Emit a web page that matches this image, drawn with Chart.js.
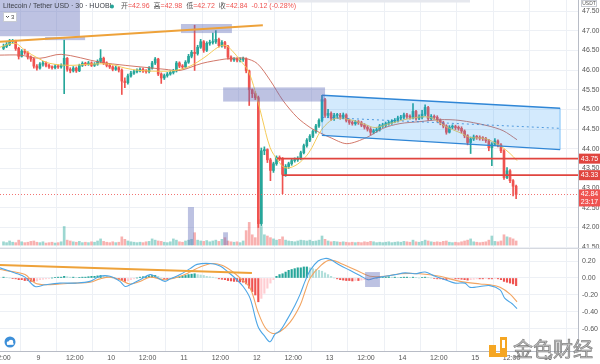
<!DOCTYPE html>
<html><head><meta charset="utf-8">
<script src="https://cdn.jsdelivr.net/npm/chart.js@4.4.1/dist/chart.umd.min.js"></script>
<style>
html,body{margin:0;padding:0;background:#fff;width:600px;height:364px;overflow:hidden}
#wrap{position:relative;width:600px;height:364px}
#c1{position:absolute;left:0;top:0}
#c2{position:absolute;left:0;top:248px}
</style></head><body>
<div id="wrap"><canvas id="c1" width="600" height="248"></canvas><canvas id="c2" width="600" height="116"></canvas></div>
<script>
// ===== DATA (1-hour candles, hours since day 8 12:00) =====
const opens = [
46.55,46.60,46.65,46.72,46.74,46.55,46.35,46.48,46.45,46.33,
46.28,46.10,46.05,46.15,46.18,46.12,46.08,46.06,46.10,46.08,
46.12,46.30,46.02,45.98,46.05,45.98,46.12,46.17,46.15,46.18,
46.12,46.15,46.22,46.30,46.18,46.12,46.08,46.02,46.06,46.00,
45.72,45.68,45.85,45.92,45.96,45.98,46.02,45.98,45.96,46.05,
46.18,46.28,45.90,45.80,45.86,45.90,45.94,45.98,46.18,46.10,
46.08,46.20,46.35,46.45,46.42,46.58,46.72,46.50,46.68,46.70,
46.72,46.78,46.62,46.70,46.60,46.33,46.26,46.28,46.25,46.27,
46.28,45.98,45.50,45.40,45.30,42.10,43.95,43.98,43.72,43.45,
43.62,43.78,43.75,43.35,43.55,43.62,43.70,43.72,43.75,43.90,
44.08,44.22,44.32,44.44,44.58,44.72,45.25,44.85,44.90,44.78,
44.85,44.85,44.80,44.86,44.72,44.67,44.64,44.68,44.66,44.60,
44.55,44.50,44.42,44.46,44.48,44.58,44.60,44.64,44.66,44.70,
44.72,44.78,44.80,44.86,44.82,44.80,44.95,44.78,44.80,44.88,
45.05,44.77,44.82,44.80,44.72,44.66,44.58,44.42,44.55,44.56,
44.54,44.52,44.45,44.33,44.16,44.25,44.30,44.29,44.27,44.26,
44.21,44.03,44.12,44.20,44.10,43.95,43.27,43.44,43.19,43.05];
const highs = [
46.66,46.70,46.78,46.78,46.76,46.58,46.52,46.53,46.47,46.36,
46.30,46.14,46.19,46.22,46.21,46.15,46.11,46.14,46.13,46.16,
46.76,46.32,46.06,46.09,46.08,46.15,46.21,46.20,46.22,46.21,
46.19,46.26,46.52,46.33,46.21,46.15,46.11,46.10,46.09,46.03,
45.80,45.90,45.97,46.00,46.03,46.06,46.05,46.01,46.09,46.22,
46.32,46.30,45.93,45.90,45.94,45.98,46.02,46.22,46.21,46.14,
46.24,46.40,46.50,47.14,46.63,46.78,46.75,46.72,46.76,46.94,
47.00,46.81,46.75,46.73,46.63,46.36,46.32,46.31,46.31,46.33,
46.31,46.00,45.52,45.45,45.34,44.02,44.05,44.00,43.76,43.66,
43.82,43.82,43.78,43.60,43.66,43.74,43.77,43.80,43.94,44.12,
44.26,44.36,44.48,44.62,44.76,45.36,45.28,45.00,44.94,44.90,
44.90,44.90,44.91,44.89,44.76,44.71,44.72,44.72,44.70,44.64,
44.59,44.54,44.50,44.53,44.62,44.65,44.68,44.71,44.74,44.77,
44.83,44.85,44.91,44.90,44.86,45.15,44.98,44.86,44.98,45.12,
45.08,44.87,44.86,44.84,44.76,44.70,44.61,44.59,44.61,44.60,
44.58,44.56,44.48,44.36,44.30,44.35,44.34,44.33,44.31,44.29,
44.24,44.16,44.26,44.23,44.13,43.98,43.52,43.47,43.22,43.08];
const lows = [
46.52,46.57,46.62,46.68,46.50,46.28,46.33,46.40,46.28,46.22,
46.05,46.00,46.02,46.10,46.08,46.04,46.02,46.03,46.04,46.05,
45.40,45.97,45.93,45.95,45.94,45.96,46.09,46.11,46.12,46.09,
46.09,46.12,46.19,46.14,46.08,46.04,45.98,45.99,45.95,45.38,
45.55,45.64,45.82,45.89,45.93,45.95,45.94,45.92,45.93,46.02,
46.14,45.86,45.66,45.76,45.82,45.87,45.90,45.95,46.06,46.03,
46.05,46.17,46.31,45.99,46.38,46.55,46.45,46.47,46.63,46.66,
46.68,46.58,46.58,46.55,46.28,46.22,46.22,46.21,46.21,46.22,
45.93,45.10,45.30,45.25,42.00,42.05,43.85,43.65,43.19,43.40,
43.58,43.70,42.86,43.30,43.50,43.58,43.66,43.68,43.72,43.87,
44.04,44.18,44.28,44.40,44.54,44.68,44.80,44.80,44.72,44.72,
44.78,44.75,44.76,44.68,44.62,44.60,44.60,44.62,44.56,44.50,
44.45,44.35,44.38,44.42,44.45,44.54,44.56,44.60,44.62,44.66,
44.68,44.74,44.76,44.77,44.75,44.76,44.73,44.74,44.76,44.84,
44.72,44.73,44.75,44.68,44.61,44.53,44.37,44.40,44.51,44.49,
44.47,44.40,44.28,44.10,43.88,44.21,44.24,44.22,44.21,44.16,
43.95,43.57,44.08,44.05,43.90,43.22,43.24,43.14,42.80,42.73];
const closes = [
46.60,46.65,46.72,46.74,46.55,46.35,46.48,46.45,46.33,46.28,
46.10,46.05,46.15,46.18,46.12,46.08,46.06,46.10,46.08,46.12,
46.30,46.02,45.98,46.05,45.98,46.12,46.17,46.15,46.18,46.12,
46.15,46.22,46.30,46.18,46.12,46.08,46.02,46.06,46.00,45.72,
45.68,45.85,45.92,45.96,45.98,46.02,45.98,45.96,46.05,46.18,
46.28,45.90,45.80,45.86,45.90,45.94,45.98,46.18,46.10,46.08,
46.20,46.35,46.45,46.42,46.58,46.72,46.50,46.68,46.70,46.72,
46.78,46.62,46.70,46.60,46.33,46.26,46.28,46.25,46.27,46.28,
45.98,45.50,45.40,45.30,42.10,43.95,43.98,43.72,43.45,43.62,
43.78,43.75,43.35,43.55,43.62,43.70,43.72,43.75,43.90,44.08,
44.22,44.32,44.44,44.58,44.72,45.25,44.85,44.90,44.78,44.85,
44.85,44.80,44.86,44.72,44.67,44.64,44.68,44.66,44.60,44.55,
44.50,44.42,44.46,44.48,44.58,44.60,44.64,44.66,44.70,44.72,
44.78,44.80,44.86,44.82,44.80,44.95,44.78,44.80,44.88,45.05,
44.77,44.82,44.80,44.72,44.66,44.58,44.42,44.55,44.56,44.54,
44.52,44.45,44.33,44.16,44.25,44.30,44.29,44.27,44.26,44.21,
44.03,44.12,44.20,44.10,43.95,43.27,43.44,43.19,43.05,42.84];
const volumes = [
8,6,10,7,6,12,8,6,7,9, 10,7,6,8,5,6,7,5,6,8,
45,12,10,8,7,9,6,7,6,8, 7,10,15,9,7,6,8,6,7,20,
14,10,8,7,6,7,6,8,9,15, 12,10,9,7,6,8,15,12,8,7,
10,12,14,30,12,10,9,11,8,10, 12,9,14,18,10,8,7,8,6,10,
35,55,25,18,62,45,25,22,18,15, 12,14,20,12,10,9,8,10,12,11,
10,12,9,10,12,22,14,10,8,9, 8,7,8,7,6,7,6,7,6,8,
7,9,8,6,7,6,7,8,6,7, 8,7,9,8,7,12,8,7,9,12,
10,8,7,8,7,9,10,7,6,7, 6,8,10,12,15,8,7,6,7,8,
12,22,9,8,10,25,20,18,15,10];
const macdHist = [
0.01,0.005,0,-0.005,-0.01,-0.02,-0.02,-0.03,-0.03,-0.04,
-0.04,-0.035,-0.02,-0.015,-0.01,-0.005,0,0.005,0.01,0.01,
0.02,0.015,0.01,0.01,0.005,0.005,0.01,0.01,0.015,0.02,
0.02,0.025,0.03,0.025,0.02,0.01,0,-0.01,-0.015,-0.03,
-0.04,-0.035,-0.02,-0.01,0,0.01,0.015,0.02,0.025,0.03,
0.03,0.02,0,-0.01,-0.01,-0.005,0,0.01,0.015,0.02,
0.03,0.04,0.045,0.05,0.04,0.035,0.03,0.02,0.015,0.01,
0,-0.01,-0.015,-0.02,-0.03,-0.035,-0.04,-0.04,-0.045,-0.05,
-0.07,-0.12,-0.16,-0.2,-0.28,-0.24,-0.18,-0.12,-0.06,-0.02,
0.02,0.04,0.05,0.07,0.09,0.10,0.11,0.12,0.12,0.13,
0.13,0.12,0.11,0.10,0.09,0.08,0.06,0.04,0.02,0,
-0.01,-0.02,-0.025,-0.03,-0.03,-0.035,-0.03,-0.03,-0.025,-0.02,
-0.015,-0.01,-0.005,0,0.005,0.01,0.01,0.015,0.01,0.01,
0.005,0.005,0.01,0.01,0.005,0.01,0.005,0,0.005,0.01,
0.005,0,-0.005,-0.01,-0.01,-0.015,-0.02,-0.015,-0.01,-0.01,
-0.01,-0.015,-0.02,-0.025,-0.02,-0.015,-0.01,-0.01,-0.01,-0.005,
-0.01,-0.01,-0.005,-0.01,-0.02,-0.04,-0.05,-0.06,-0.07,-0.09];
// MACD / signal lines: [hour, value]
const macdLine = [[-0.7,0.12],[4.3,0.06],[7.6,0.01],[10.9,-0.10],[14.2,-0.08],[19.1,-0.06],[24.1,-0.06],[29,-0.04],[32.3,0.02],[35.6,0.02],[38.9,-0.04],[40.6,-0.10],[42.2,-0.08],[45.5,-0.02],[48.8,0.04],[50.4,0.02],[53.7,-0.04],[55.4,-0.01],[58.7,0.04],[62,0.11],[64.3,0.16],[68.6,0.17],[71.9,0.14],[74.5,0.07],[76.8,0.0],[79.5,-0.10],[81.8,-0.24],[84.4,-0.57],[86.7,-0.69],[88.4,-0.75],[90,-0.66],[91.7,-0.62],[94,-0.49],[96.6,-0.32],[98.3,-0.19],[99.9,-0.04],[101.6,0.09],[104.2,0.20],[106.5,0.23],[108.1,0.22],[111.4,0.15],[114.7,0.09],[118,0.03],[120.7,-0.02],[123,0.0],[126.3,0.02],[129.6,0.04],[132.9,0.06],[136.2,0.05],[139.5,0.07],[142.8,0.02],[146.1,-0.02],[149.4,-0.06],[152.6,-0.06],[154.3,-0.11],[157.6,-0.10],[160.9,-0.09],[164.2,-0.14],[165.8,-0.24],[168.1,-0.30],[169.8,-0.36]];
const signalLine = [[-0.7,0.10],[4.3,0.07],[7.6,0.04],[10.9,-0.06],[14.2,-0.08],[19.1,-0.07],[24.1,-0.06],[29,-0.05],[32.3,-0.01],[35.6,0.01],[38.9,-0.02],[42.2,-0.07],[45.5,-0.04],[48.8,0.01],[53.7,-0.02],[58.7,0.02],[62,0.07],[65.3,0.13],[69.3,0.17],[72.5,0.15],[75.8,0.08],[78.5,0.0],[81.8,-0.12],[84.4,-0.40],[86.7,-0.58],[89,-0.65],[91.7,-0.63],[95,-0.52],[98.3,-0.32],[100,-0.15],[101.6,0.0],[104.9,0.14],[108.1,0.21],[113.1,0.15],[118,0.07],[121.3,0.02],[126.3,0.02],[131.2,0.05],[137.8,0.05],[144.4,0.02],[151,-0.04],[157.6,-0.07],[160.9,-0.08],[164.2,-0.11],[167.5,-0.19],[169.8,-0.28]];
// moving averages: [hour, price]
const maFast = [[-0.7,46.58],[4.3,46.68],[7.6,46.50],[11.9,46.30],[15.8,46.17],[22.4,46.12],[29,46.15],[35.6,46.15],[40.6,46.05],[45.5,45.99],[52.1,45.97],[57,45.99],[62,46.10],[66.9,46.33],[71.2,46.58],[73.5,46.63],[75.8,46.50],[78.5,46.25],[81.1,45.99],[83.4,45.48],[85.7,44.80],[88.4,44.03],[91,43.70],[93.3,43.52],[96.6,43.57],[99.9,43.78],[102.2,44.03],[104.2,44.34],[106.5,44.59],[109.8,44.77],[114.7,44.74],[119.7,44.62],[123,44.54],[127.9,44.64],[134.5,44.77],[141.1,44.80],[146.1,44.57],[151,44.41],[154.3,44.29],[159.2,44.26],[164.2,44.08],[167.5,43.88],[169.8,43.70]];
const maSlow = [[-0.7,46.38],[5.9,46.38],[12.5,46.30],[19.5,46.40],[32.3,46.20],[40.6,46.12],[47.1,46.07],[53.7,46.02],[58.7,45.99],[65.9,46.17],[73.5,46.28],[76.8,46.30],[80.1,46.30],[84.1,46.17],[88.4,45.74],[92.6,45.23],[97.3,44.80],[101.6,44.54],[104.8,44.41],[108.1,44.29],[113.7,44.13],[120.3,44.29],[125.6,44.52],[131.2,44.64],[137.8,44.69],[144.4,44.74],[151,44.72],[159.9,44.59],[165.2,44.46],[169.8,44.23]];
const priceTicks = [41.5,42,42.5,43,43.5,44,44.5,45,45.5,46,46.5,47,47.5];
const macdTicks = [0.2,0,-0.2,-0.4,-0.6];
const timeTicks = [0,12,24,36,48,60,72,84,96,108,120,132,144,156,168,180];
const timeLabels = ["12:00","9","12:00","10","12:00","11","12:00","12","12:00","13","12:00","14","12:00","15","12:00","16"];
const lastPrice = 42.84;
// drawings (hour, price)
const trendTop = [[-0.7,46.72],[86.0,47.14]];
const zones = [[-0.7,25.7,46.86,47.9],[14.2,27.4,46.76,46.84],[59.0,75.8,46.94,47.17],[72.9,106.5,45.20,45.56]];
const volZones = [[61.3,63.3,0,92],[72.9,74.5,0,31]];
const channelTop = [[105.5,45.36],[184.0,45.03]];
const channelBot = [[105.5,44.34],[184.0,43.98]];
const channelMid = [[105.5,44.80],[184.0,44.52]];
const levels = [[90.7,43.75],[92.3,43.33]];
const macdTrend = [[-0.7,0.153],[82.4,0.059]];
const macdZone = [119.7,124.6,-0.106,0.07];

// ===== RENDER =====
const H0 = -0.66, H1 = 189.9;
const FONT = '"Liberation Sans","DejaVu Sans","Noto Sans CJK SC",sans-serif';
Chart.defaults.font.family = FONT;
Chart.defaults.animation = false;
const UP = '#26a69a', DN = '#ef5350';
const isUp = closes.map((c,i)=>c>=opens[i]);
const GRID = '#edf0f5';

const fixTicks = arr => s => { s.ticks = arr.map(v=>({value:v})); };
const noPad = s => { s.paddingLeft=0; s.paddingRight=0; s.paddingTop=0; s.paddingBottom=0; };

const ann1 = {
  id:'ann1',
  afterDatasetsDraw(chart){
    const ctx=chart.ctx, xs=chart.scales.x, ys=chart.scales.y, yv=chart.scales.yv, ca=chart.chartArea;
    const X=v=>xs.getPixelForValue(v), Y=v=>ys.getPixelForValue(v), YV=v=>yv.getPixelForValue(v);
    ctx.save();
    ctx.beginPath(); ctx.rect(ca.left,ca.top,ca.right-ca.left,ca.bottom-ca.top); ctx.clip();
    // channel
    ctx.fillStyle='rgba(33,150,243,0.20)';
    ctx.beginPath();
    ctx.moveTo(X(channelTop[0][0]),Y(channelTop[0][1]));
    ctx.lineTo(X(channelTop[1][0]),Y(channelTop[1][1]));
    ctx.lineTo(X(channelBot[1][0]),Y(channelBot[1][1]));
    ctx.lineTo(X(channelBot[0][0]),Y(channelBot[0][1]));
    ctx.closePath(); ctx.fill();
    ctx.strokeStyle='rgba(33,150,243,0.5)'; ctx.lineWidth=1;
    ctx.beginPath();
    ctx.moveTo(X(channelTop[0][0]),Y(channelTop[0][1])); ctx.lineTo(X(channelBot[0][0]),Y(channelBot[0][1]));
    ctx.moveTo(X(channelTop[1][0]),Y(channelTop[1][1])); ctx.lineTo(X(channelBot[1][0]),Y(channelBot[1][1]));
    ctx.stroke();
    ctx.strokeStyle='#2f86d6'; ctx.lineWidth=1.4;
    [channelTop,channelBot].forEach(l=>{ctx.beginPath();ctx.moveTo(X(l[0][0]),Y(l[0][1]));ctx.lineTo(X(l[1][0]),Y(l[1][1]));ctx.stroke();});
    ctx.setLineDash([2,3]); ctx.lineWidth=1; ctx.strokeStyle='rgba(47,134,214,0.8)';
    ctx.beginPath();ctx.moveTo(X(channelMid[0][0]),Y(channelMid[0][1]));ctx.lineTo(X(channelMid[1][0]),Y(channelMid[1][1]));ctx.stroke();
    ctx.setLineDash([]);
    // zones
    ctx.fillStyle='rgba(98,110,186,0.42)';
    zones.forEach(z=>{const x0=X(z[0]),x1=X(z[1]),y0=Y(z[3]),y1=Y(z[2]);ctx.fillRect(x0,y0,x1-x0,y1-y0);});
    volZones.forEach(z=>{const x0=X(z[0]),x1=X(z[1]),y0=YV(z[3]),y1=YV(z[2]);ctx.fillRect(x0,y0,x1-x0,y1-y0);});
    // trend line
    ctx.strokeStyle='#eea23a'; ctx.lineWidth=2;
    ctx.beginPath();ctx.moveTo(X(trendTop[0][0]),Y(trendTop[0][1]));ctx.lineTo(X(trendTop[1][0]),Y(trendTop[1][1]));ctx.stroke();
    // horizontal levels
    ctx.strokeStyle='#e0453f'; ctx.lineWidth=1.6;
    levels.forEach(l=>{ctx.beginPath();ctx.moveTo(X(l[0]),Y(l[1]));ctx.lineTo(ca.right,Y(l[1]));ctx.stroke();});
    // last price dotted
    ctx.strokeStyle='rgba(239,83,80,0.8)'; ctx.lineWidth=1; ctx.setLineDash([1,2]);
    ctx.beginPath();ctx.moveTo(ca.left,Math.round(Y(lastPrice))+0.5);ctx.lineTo(ca.right,Math.round(Y(lastPrice))+0.5);ctx.stroke();
    ctx.setLineDash([]);
    ctx.restore();
  },
  afterDraw(chart){
    const ctx=chart.ctx, ys=chart.scales.y, ca=chart.chartArea;
    const Y=v=>ys.getPixelForValue(v);
    ctx.save();
    // axis tags
    const tag=(y0,h,lines,bg)=>{
      ctx.fillStyle=bg; ctx.fillRect(ca.right+1,y0,21,h);
      ctx.fillStyle='#fff'; ctx.font='7px '+FONT; ctx.textAlign='center'; ctx.textBaseline='middle';
      lines.forEach((t,k)=>ctx.fillText(t,ca.right+11.5,y0+5+k*8));
    };
    levels.forEach(l=>tag(Y(l[1])-5,10,[l[1].toFixed(2)],'#e0453f'));
    tag(Y(lastPrice)-5,17,[lastPrice.toFixed(2),'23:17'],'#ef5350');
    // USDT tag
    ctx.strokeStyle='#c8cbd3'; ctx.lineWidth=1; ctx.fillStyle='#fff';
    ctx.fillRect(581.5,0.5,15,6); ctx.strokeRect(581.5,0.5,15,6);
    ctx.fillStyle='#555'; ctx.font='5px '+FONT; ctx.textAlign='center'; ctx.textBaseline='middle';
    ctx.fillText('USDT',589,3.8);
    // top toolbar strip
    ctx.fillStyle='#e6e8ee'; ctx.fillRect(268,0,202,2.5);
    // legend
    ctx.textAlign='left'; ctx.textBaseline='middle'; ctx.font='7px '+FONT;
    ctx.fillStyle='#3c3f47';
    ctx.fillText('Litecoin / Tether USD · 30 · HUOBI',3,6.5);
    ctx.fillStyle='#26a69a'; ctx.beginPath(); ctx.arc(112,6.5,2,0,Math.PI*2); ctx.fill();
    let x=121;
    [['开','42.96'],['高','42.98'],['低','42.72'],['收','42.84']].forEach(p=>{
      ctx.fillStyle='#555'; ctx.fillText(p[0],x,6.5); x+=ctx.measureText(p[0]).width;
      ctx.fillStyle='#ef5350'; const t='='+p[1]; ctx.fillText(t,x,6.5); x+=ctx.measureText(t).width+4;
    });
    ctx.fillStyle='#ef5350'; ctx.fillText('-0.12 (-0.28%)',x,6.5);
    // collapse box
    ctx.fillStyle='#fff'; ctx.strokeStyle='#c8cbd3';
    ctx.fillRect(3.5,12.5,13,9); ctx.strokeRect(3.5,12.5,13,9);
    ctx.strokeStyle='#555'; ctx.beginPath(); ctx.moveTo(6,16); ctx.lineTo(7.5,17.5); ctx.lineTo(9,16); ctx.stroke();
    ctx.fillStyle='#444'; ctx.font='6px '+FONT; ctx.fillText('3',11,17);
    ctx.restore();
  }
};

new Chart(document.getElementById('c1'),{
  type:'bar',
  data:{datasets:[
    {type:'line',label:'MA fast',data:maFast.map(p=>({x:p[0],y:p[1]})),borderColor:'rgba(244,200,80,0.95)',borderWidth:1,pointRadius:0,tension:0.35,order:1,yAxisID:'y'},
    {type:'line',label:'MA slow',data:maSlow.map(p=>({x:p[0],y:p[1]})),borderColor:'rgba(205,105,90,0.9)',borderWidth:1,pointRadius:0,tension:0.3,order:1,yAxisID:'y'},
    {label:'body',data:closes.map((c,i)=>({x:i+0.5,y:[Math.min(c,opens[i]),Math.max(c,opens[i])]})),backgroundColor:isUp.map(u=>u?UP:DN),barThickness:2,minBarLength:1,grouped:false,order:2,yAxisID:'y'},
    {label:'wick',data:closes.map((c,i)=>({x:i+0.5,y:[lows[i],highs[i]]})),backgroundColor:isUp.map(u=>u?UP:DN),barThickness:1,grouped:false,order:3,yAxisID:'y'},
    {label:'volume',data:volumes.map((v,i)=>({x:i+0.5,y:v})),backgroundColor:isUp.map(u=>u?'rgba(38,166,154,0.45)':'rgba(239,83,80,0.45)'),barThickness:2,grouped:false,order:4,yAxisID:'yv'}
  ]},
  options:{
    responsive:false, animation:false, events:[],
    layout:{padding:0},
    plugins:{legend:{display:false},tooltip:{enabled:false}},
    scales:{
      x:{type:'linear',min:H0,max:H1,offset:false,grid:{color:GRID,drawTicks:false},border:{display:false},ticks:{display:false},afterBuildTicks:fixTicks(timeTicks),afterFit:s=>{s.height=0;noPad(s);}},
      y:{position:'right',min:41.48,max:47.78,grid:{color:GRID,drawTicks:false},border:{color:'#b8bcc6'},
         ticks:{autoSkip:false,padding:4,font:{size:7},color:'#555',callback:v=>Number(v).toFixed(2)},
         afterBuildTicks:fixTicks(priceTicks),afterFit:s=>{s.width=22;noPad(s);}},
      yv:{display:false,min:-7,max:593}
    }
  },
  plugins:[ann1]
});

const histColors = macdHist.map((v,i)=>{
  const p = i>0?macdHist[i-1]:0;
  if(v>=0) return v>=p?'#26a69a':'#b2dfdb';
  return v<=p?'#ef5350':'#ffcdd2';
});

const ann2 = {
  id:'ann2',
  afterDatasetsDraw(chart){
    const ctx=chart.ctx, xs=chart.scales.x, ys=chart.scales.y, ca=chart.chartArea;
    const X=v=>xs.getPixelForValue(v), Y=v=>ys.getPixelForValue(v);
    ctx.save();
    ctx.beginPath(); ctx.rect(ca.left,ca.top,ca.right-ca.left,ca.bottom-ca.top); ctx.clip();
    ctx.fillStyle='rgba(98,110,186,0.42)';
    ctx.fillRect(X(macdZone[0]),Y(macdZone[3]),X(macdZone[1])-X(macdZone[0]),Y(macdZone[2])-Y(macdZone[3]));
    ctx.strokeStyle='#eea23a'; ctx.lineWidth=2;
    ctx.beginPath();ctx.moveTo(X(macdTrend[0][0]),Y(macdTrend[0][1]));ctx.lineTo(X(macdTrend[1][0]),Y(macdTrend[1][1]));ctx.stroke();
    ctx.restore();
  },
  afterDraw(chart){
    const ctx=chart.ctx, ca=chart.chartArea;
    ctx.save();
    // pane separator
    ctx.strokeStyle='#d6d9e0'; ctx.lineWidth=1;
    ctx.beginPath(); ctx.moveTo(0,0.5); ctx.lineTo(600,0.5); ctx.stroke();
    // cloud icon
    ctx.fillStyle='#3d8fd8'; ctx.beginPath(); ctx.arc(10,94,5.5,0,Math.PI*2); ctx.fill();
    ctx.fillStyle='#fff'; ctx.beginPath(); ctx.arc(8.5,95,1.8,0,Math.PI*2); ctx.arc(11,94,2.3,0,Math.PI*2); ctx.fill();
    ctx.fillRect(7,95,6.5,1.8);
    // watermark logo
    const oy=248;
    ctx.fillStyle='#f5a623';
    ctx.fillRect(500,337-oy,7,16); ctx.fillRect(489,345-oy,7,8); ctx.fillRect(489,353-oy,18,4);
    ctx.fillStyle='#fff'; ctx.fillRect(502,340-oy,3,8);
    ctx.font='20px "Noto Sans CJK SC",sans-serif'; ctx.textAlign='left'; ctx.textBaseline='middle';
    ctx.fillStyle='rgba(185,185,185,0.85)'; ctx.strokeStyle='rgba(110,110,110,0.85)'; ctx.lineWidth=0.7;
    ctx.fillText('金色财经',513,349-oy); ctx.strokeText('金色财经',513,349-oy);
    ctx.restore();
  }
};

new Chart(document.getElementById('c2'),{
  type:'bar',
  data:{datasets:[
    {type:'line',label:'MACD',data:macdLine.map(p=>({x:p[0],y:p[1]})),borderColor:'#4ea6e6',borderWidth:1.1,pointRadius:0,tension:0.35,order:1},
    {type:'line',label:'Signal',data:signalLine.map(p=>({x:p[0],y:p[1]})),borderColor:'#f2a461',borderWidth:1.1,pointRadius:0,tension:0.35,order:1},
    {label:'Histogram',data:macdHist.map((v,i)=>({x:i+0.5,y:v})),backgroundColor:histColors,barThickness:1.5,grouped:false,order:2}
  ]},
  options:{
    responsive:false, animation:false, events:[],
    layout:{padding:0},
    plugins:{legend:{display:false},tooltip:{enabled:false}},
    scales:{
      x:{type:'linear',min:H0,max:H1,offset:false,grid:{color:GRID,drawTicks:false},border:{color:'#b8bcc6'},
         ticks:{autoSkip:false,maxRotation:0,padding:3,font:{size:7},color:'#555',callback:(v,i)=>timeLabels[i]},
         afterBuildTicks:fixTicks(timeTicks),afterFit:s=>{s.height=13;noPad(s);}},
      y:{position:'right',min:-0.859,max:0.353,grid:{color:GRID,drawTicks:false},border:{color:'#b8bcc6'},
         ticks:{autoSkip:false,padding:4,font:{size:7},color:'#555',callback:v=>Number(v).toFixed(2)},
         afterBuildTicks:fixTicks(macdTicks),afterFit:s=>{s.width=22;noPad(s);}}
    }
  },
  plugins:[ann2]
});
</script>
</body></html>
